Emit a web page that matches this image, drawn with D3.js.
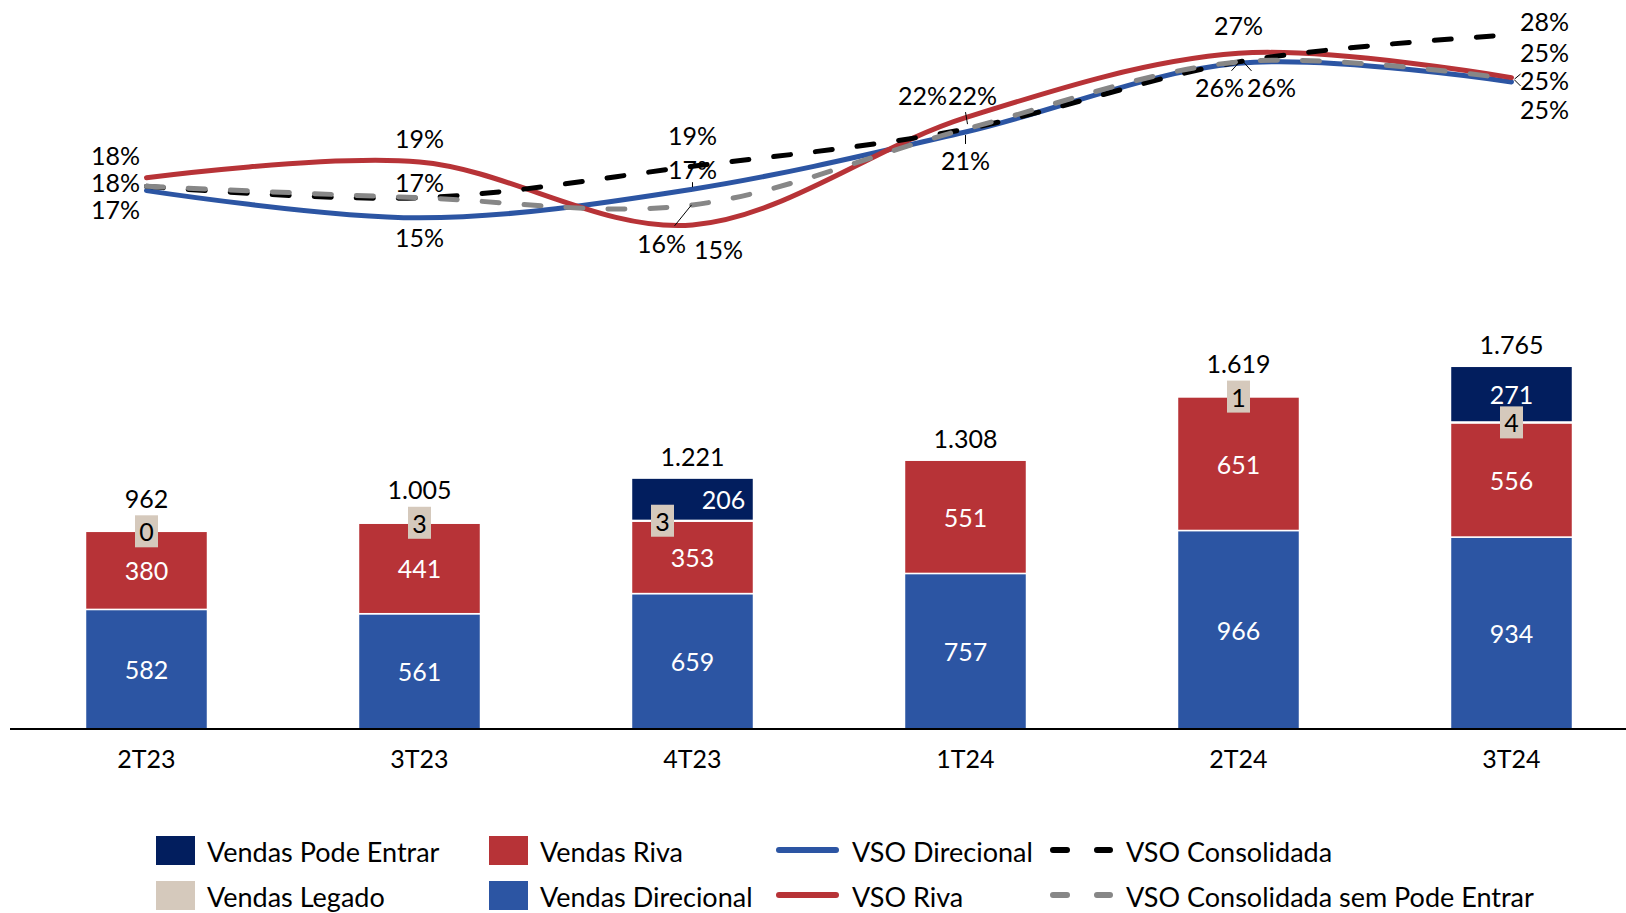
<!DOCTYPE html>
<html>
<head>
<meta charset="utf-8">
<script src="https://cdn.jsdelivr.net/npm/d3@7"></script>
<style>
  body { margin: 0; background: #fff; }
  text { font-family: Lato, "Noto Sans", sans-serif; }
</style>
</head>
<body>
<div id="chart"></div>
<script>
const width = 1626;
const height = 913;

// Data
const quarters = ["2T23", "3T23", "4T23", "1T24", "2T24", "3T24"];
const vendasDirecional = [582, 561, 659, 757, 966, 934];
const vendasRiva = [380, 441, 353, 551, 651, 556];
const vendasLegado = [0, 3, 3, null, 1, 4];
const vendasPodeEntrar = [0, 0, 206, 0, 0, 271];
const vendasTotal = [962, 1005, 1221, 1308, 1619, 1765];

const vsoDirecional = [0.173, 0.154, 0.174, 0.214, 0.262, 0.249];
const vsoRiva = [0.182, 0.193, 0.149, 0.224, 0.269, 0.252];
const vsoConsolidada = [0.176, 0.168, 0.190, 0.216, 0.263, 0.282];
const vsoConsolidadaSemPE = [0.176, 0.168, 0.163, 0.216, 0.263, 0.251];

const colors = {
    direcional: "#2C55A3",
    riva: "#B73337",
    legado: "#D5C9BC",
    podeEntrar: "#021E5E",
    consolidada: "#000000",
    semPE: "#878787"
};

const ptBR = d3.formatLocale({ decimal: ",", thousands: ".", grouping: [3], currency: ["R$", ""] });
const fmtInt = ptBR.format(",.0f");
const fmtPct = d3.format(".0%");

const svg = d3.select("#chart").append("svg")
    .attr("width", width)
    .attr("height", height);

svg.append("rect").attr("width", width).attr("height", height).attr("fill", "#fff");

// Scales
const x = d3.scaleBand()
    .domain(quarters)
    .range([10, 1648])
    .paddingInner(0.553)
    .paddingOuter(0.2765);

const yBar = d3.scaleLinear().domain([0, 2000]).range([729, 318]);
const yLine = d3.scaleLinear().domain([0, 0.30]).range([438, 9]);

const cx = q => x(q) + x.bandwidth() / 2;

// Stacked bars
const rows = quarters.map((q, i) => ({
    q,
    direcional: vendasDirecional[i],
    riva: vendasRiva[i],
    legado: vendasLegado[i] || 0,
    podeEntrar: vendasPodeEntrar[i]
}));
const keys = ["direcional", "riva", "legado", "podeEntrar"];
const stacked = d3.stack().keys(keys)(rows);

const barG = svg.append("g");
stacked.forEach(layer => {
    barG.selectAll(null)
        .data(layer)
        .enter().append("rect")
        .attr("x", d => x(d.data.q))
        .attr("width", x.bandwidth())
        .attr("y", d => yBar(d[1]))
        .attr("height", d => yBar(d[0]) - yBar(d[1]))
        .attr("fill", colors[layer.key])
        .attr("stroke", d => (d[1] - d[0]) > 0 ? "#fff" : "none")
        .attr("stroke-width", 1.5);
});

const labelStyle = sel => sel
    .attr("text-anchor", "middle")
    .attr("dominant-baseline", "central")
    .attr("font-size", 25);

// a thin Pode Entrar segment pushes its label right and the Legado box left
const crowded = i => vendasPodeEntrar[i] > 0 && (yBar(0) - yBar(vendasPodeEntrar[i])) < 50;

// segment labels
const segLabels = [];
stacked.forEach(layer => {
    layer.forEach((d, i) => {
        const v = d[1] - d[0];
        if (layer.key === "direcional" || layer.key === "riva") {
            segLabels.push({ x: cx(quarters[i]), y: yBar((d[0] + d[1]) / 2), t: fmtInt(v) });
        }
        if (layer.key === "podeEntrar" && v > 0) {
            segLabels.push({ x: cx(quarters[i]) + (crowded(i) ? 31 : 0), y: yBar((d[0] + d[1]) / 2), t: fmtInt(v) });
        }
    });
});
barG.selectAll(null)
    .data(segLabels)
    .enter().append("text")
    .call(labelStyle)
    .attr("x", d => d.x)
    .attr("y", d => d.y)
    .attr("fill", "#fff")
    .text(d => d.t);

// Legado boxes
const legadoLayer = stacked[2];
legadoLayer.forEach((d, i) => {
    if (vendasLegado[i] === null) return;
    const lx = cx(quarters[i]) + (crowded(i) ? -30 : 0);
    const ly = yBar((d[0] + d[1]) / 2);
    barG.append("rect")
        .attr("x", lx - 11.5).attr("y", ly - 16)
        .attr("width", 23).attr("height", 32)
        .attr("fill", colors.legado);
    barG.append("text").call(labelStyle)
        .attr("x", lx).attr("y", ly)
        .attr("fill", "#000")
        .text(fmtInt(vendasLegado[i]));
});

// totals
barG.selectAll(null)
    .data(quarters)
    .enter().append("text")
    .call(labelStyle)
    .attr("x", q => cx(q))
    .attr("y", (q, i) => {
        const boxOnTop = vendasLegado[i] !== null && vendasPodeEntrar[i] === 0;
        return yBar(vendasTotal[i]) - (boxOnTop ? 33 : 22.5);
    })
    .attr("fill", "#000")
    .text((q, i) => fmtInt(vendasTotal[i]));

// x axis
svg.append("line")
    .attr("x1", 10).attr("x2", width)
    .attr("y1", yBar(0)).attr("y2", yBar(0))
    .attr("stroke", "#000").attr("stroke-width", 2);

svg.selectAll(null)
    .data(quarters)
    .enter().append("text")
    .call(labelStyle)
    .attr("x", q => cx(q))
    .attr("y", 758)
    .attr("fill", "#000")
    .text(q => q);

// Lines
const series = [
    { key: "dir", values: vsoDirecional, color: colors.direcional, dash: null },
    { key: "riva", values: vsoRiva, color: colors.riva, dash: null },
    { key: "cons", values: vsoConsolidada, color: colors.consolidada, dash: "17,25" },
    { key: "semPE", values: vsoConsolidadaSemPE, color: colors.semPE, dash: "17,25" }
];

const line = d3.line()
    .x((d, i) => cx(quarters[i]))
    .y(d => yLine(d))
    .curve(d3.curveCardinal.tension(0));

const lineG = svg.append("g");
series.forEach(s => {
    lineG.append("path")
        .attr("d", line(s.values))
        .attr("fill", "none")
        .attr("stroke", s.color)
        .attr("stroke-width", 5)
        .attr("stroke-linecap", "round")
        .attr("stroke-dasharray", s.dash);
});

// label offsets [dx, dy] from the point; null = hidden under another label
const labelOffsets = {
    dir:   [[-31, 18], [0, 19.5], [0, -20.5], [0, 28], [-19, 23.5], [33, 27]],
    riva:  [[-31, -23], [0, -24], [26, 24], [-43, -23], [0, -28.5], [33, -26]],
    cons:  [[-31, -4.6], [0, -15.5], [0, -31.5], [7, -34], [33, 25], [33, -14]],
    semPE: [null, null, [-31, 38], null, null, [33, 1]]
};

// leader lines [key, index, x1, y1, x2, y2] relative to the point
const leaders = [
    ["semPE", 2, -18, 21, -1, 0],
    ["dir", 2, 0, -7, 0, -2],
    ["cons", 3, 0, -17, 2, -5],
    ["dir", 3, 0, 3, 0, 12],
    ["dir", 4, -7, 7.4, 3, -3.6],
    ["cons", 4, 13, 9, 3, -2],
    ["semPE", 5, 3, 0, 9, -5],
    ["dir", 5, 3, -2, 9, 4]
];

const byKey = Object.fromEntries(series.map(s => [s.key, s]));
leaders.forEach(([k, i, x1, y1, x2, y2]) => {
    const px = cx(quarters[i]);
    const py = yLine(byKey[k].values[i]);
    lineG.append("line")
        .attr("x1", px + x1).attr("y1", py + y1)
        .attr("x2", px + x2).attr("y2", py + y2)
        .attr("stroke", "#000").attr("stroke-width", 1);
});

series.forEach(s => {
    s.values.forEach((v, i) => {
        const off = labelOffsets[s.key][i];
        if (!off) return;
        lineG.append("text").call(labelStyle)
            .attr("x", cx(quarters[i]) + off[0])
            .attr("y", yLine(v) + off[1])
            .attr("fill", "#000")
            .text(fmtPct(v));
    });
});

// Legend
const legendItems = [
    { label: "Vendas Pode Entrar", type: "rect", color: colors.podeEntrar, x: 156, y: 851 },
    { label: "Vendas Legado", type: "rect", color: colors.legado, x: 156, y: 896 },
    { label: "Vendas Riva", type: "rect", color: colors.riva, x: 489, y: 851 },
    { label: "Vendas Direcional", type: "rect", color: colors.direcional, x: 489, y: 896 },
    { label: "VSO Direcional", type: "line", color: colors.direcional, x: 776, y: 851 },
    { label: "VSO Riva", type: "line", color: colors.riva, x: 776, y: 896 },
    { label: "VSO Consolidada", type: "dash", color: colors.consolidada, x: 1050, y: 851 },
    { label: "VSO Consolidada sem Pode Entrar", type: "dash", color: colors.semPE, x: 1050, y: 896 }
];

const legend = svg.append("g");
legendItems.forEach(it => {
    let tx;
    if (it.type === "rect") {
        legend.append("rect")
            .attr("x", it.x).attr("y", it.y - 15)
            .attr("width", 39).attr("height", 29)
            .attr("fill", it.color);
        tx = it.x + 51;
    } else {
        legend.append("line")
            .attr("x1", it.x + 3).attr("x2", it.x + 60)
            .attr("y1", it.y - 1).attr("y2", it.y - 1)
            .attr("stroke", it.color)
            .attr("stroke-width", 6)
            .attr("stroke-linecap", "round")
            .attr("stroke-dasharray", it.type === "dash" ? "14,30" : null);
        tx = it.x + 76;
    }
    legend.append("text")
        .attr("x", tx).attr("y", it.y)
        .attr("dominant-baseline", "central")
        .attr("font-size", 27)
        .attr("fill", "#000")
        .text(it.label);
});
</script>
</body>
</html>
